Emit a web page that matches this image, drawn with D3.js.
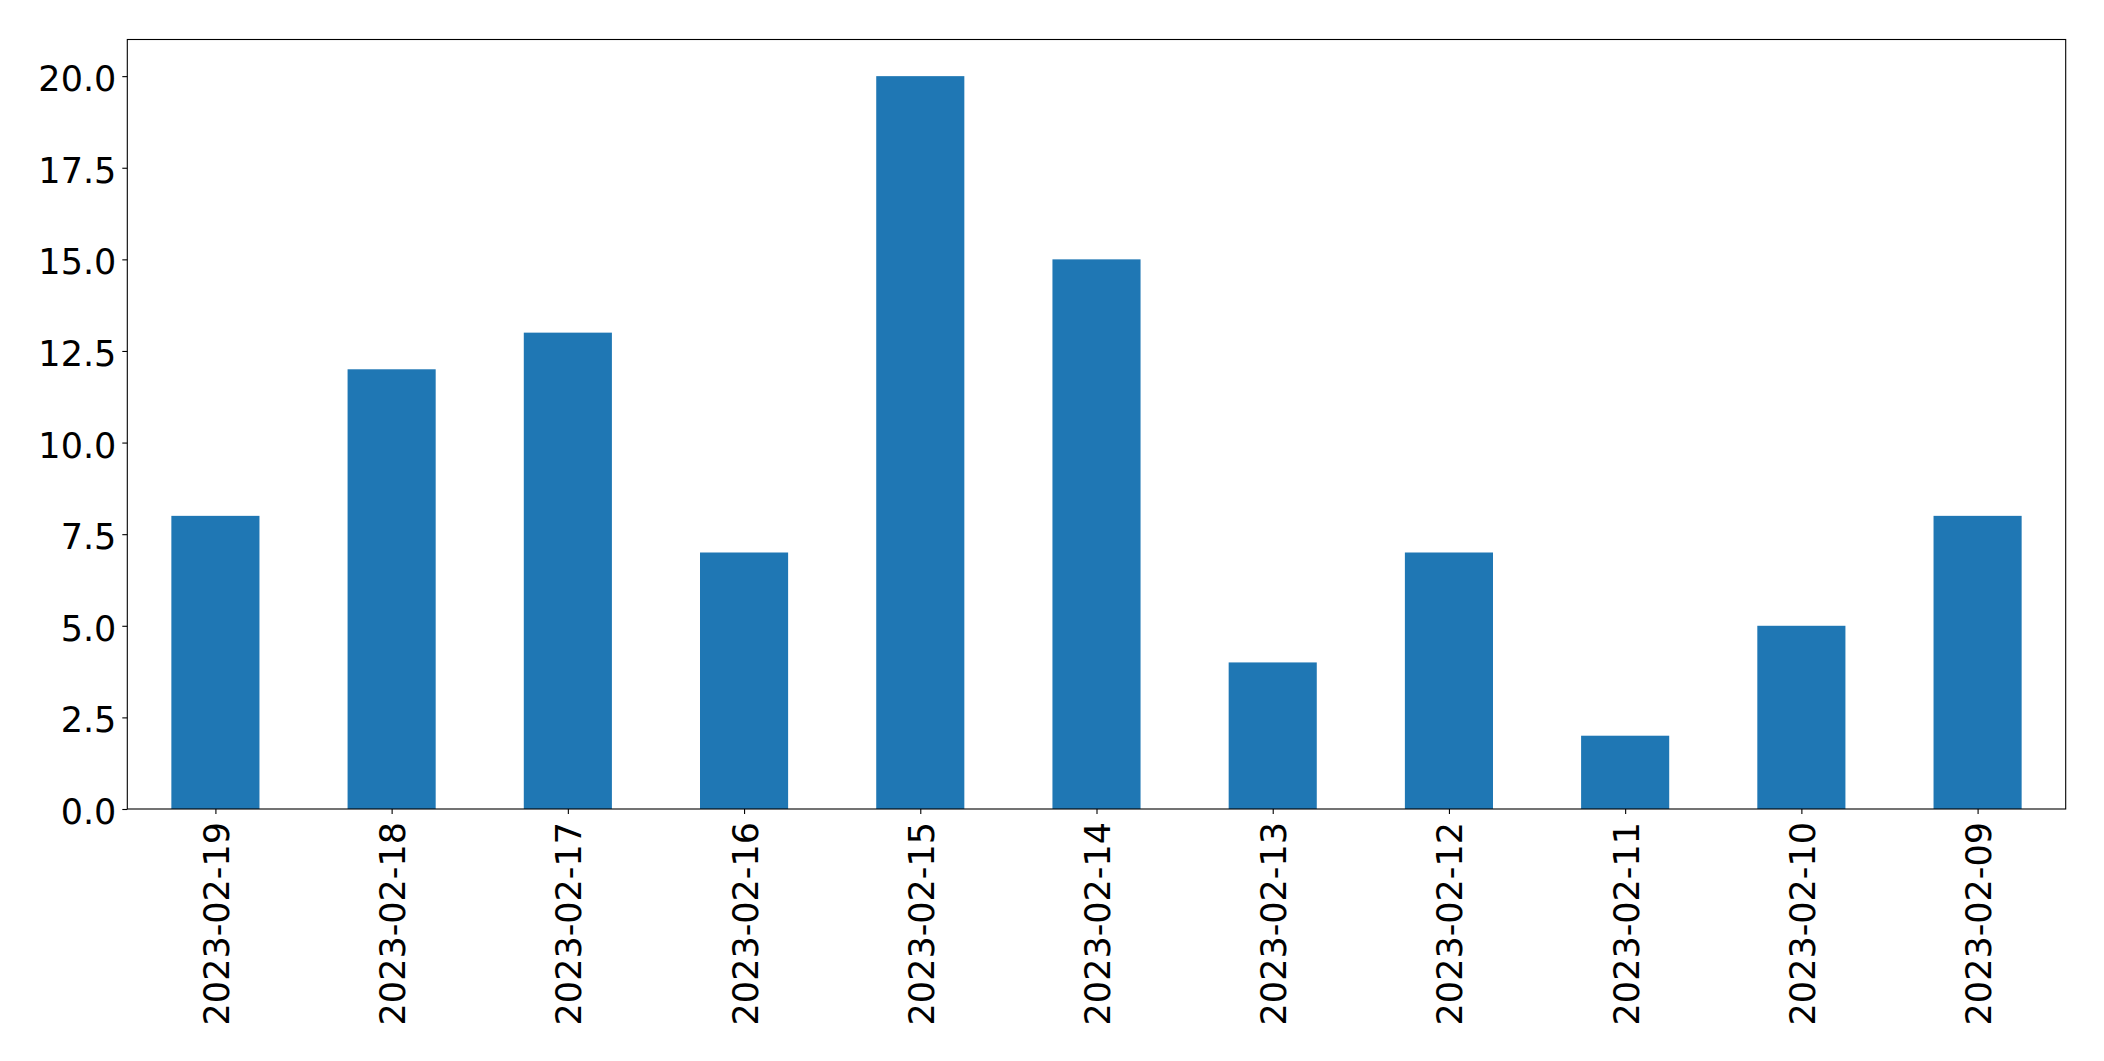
<!DOCTYPE html>
<html>
<head>
<meta charset="utf-8">
<script src="https://cdn.jsdelivr.net/npm/d3@7"></script>
<style>
  html, body { margin: 0; padding: 0; background: #fff; }
  svg { display: block; }
</style>
</head>
<body>
<svg id="chart" width="2104" height="1061"></svg>
<script>
const categories = ["2023-02-19","2023-02-18","2023-02-17","2023-02-16","2023-02-15","2023-02-14","2023-02-13","2023-02-12","2023-02-11","2023-02-10","2023-02-09"];
const values = [8, 12, 13, 7, 20, 15, 4, 7, 2, 5, 8];
const yTicks = [0, 2.5, 5, 7.5, 10, 12.5, 15, 17.5, 20];

const W = 2104, H = 1061;
const margin = {left: 127.3, right: W - 2065.7, top: 39.5, bottom: H - 809};
const svg = d3.select("#chart");
const fontFamily = "'DejaVu Sans', sans-serif";
const fontSize = 35;

const x = d3.scaleLinear().domain([-0.5, categories.length - 0.5]).range([margin.left, W - margin.right]);
const y = d3.scaleLinear().domain([0, 21]).range([H - margin.bottom, margin.top]);

// bars
svg.append("g").selectAll("rect").data(values).join("rect")
  .attr("x", (d, i) => x(i - 0.25))
  .attr("width", (d, i) => x(i + 0.25) - x(i - 0.25))
  .attr("y", d => y(d))
  .attr("height", d => y(0) - y(d))
  .attr("fill", "#1f77b4");

// y axis
const yAxis = d3.axisLeft(y).tickValues(yTicks).tickFormat(d3.format(".1f")).tickSize(5).tickPadding(6);
const gy = svg.append("g").attr("transform", `translate(${margin.left},0)`).call(yAxis);
gy.select(".domain").remove();
gy.selectAll(".tick line").attr("stroke", "#000").attr("stroke-width", 1.1);
gy.selectAll(".tick text")
  .attr("font-family", fontFamily).attr("font-size", fontSize).attr("fill", "#000")
  .attr("dy", null).attr("dominant-baseline", "alphabetic")
  .attr("transform", "translate(0,14.5)");

// x axis
const xAxis = d3.axisBottom(x).tickValues(d3.range(categories.length)).tickFormat(i => categories[i]).tickSize(5);
const gx = svg.append("g").attr("transform", `translate(0,${H - margin.bottom})`).call(xAxis);
gx.select(".domain").remove();
gx.selectAll(".tick line").attr("stroke", "#000").attr("stroke-width", 1.1);
gx.selectAll(".tick text")
  .attr("font-family", fontFamily).attr("font-size", fontSize).attr("fill", "#000")
  .attr("y", 0).attr("dy", null)
  .attr("text-anchor", "end")
  .attr("dominant-baseline", "alphabetic")
  .attr("transform", "translate(13,13) rotate(-90)");

// frame
svg.append("rect")
  .attr("x", margin.left).attr("y", margin.top)
  .attr("width", W - margin.right - margin.left)
  .attr("height", H - margin.bottom - margin.top)
  .attr("fill", "none").attr("stroke", "#000").attr("stroke-width", 1.1);
</script>
</body>
</html>
